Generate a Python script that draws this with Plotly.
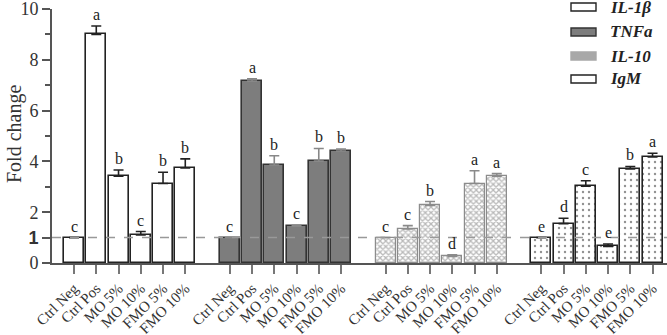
import plotly.graph_objects as go

categories = ["Ctrl Neg", "Ctrl Pos", "MO 5%", "MO 10%", "FMO 5%", "FMO 10%"]
genes = ["IL-1β", "TNFa", "IL-10", "IgM"]

il1b = [1.0, 9.0, 3.42, 1.10, 3.13, 3.74]
il1b_err = [0, 0.33, 0.24, 0.14, 0.44, 0.36]
il1b_sig = ["c", "a", "b", "c", "b", "b"]

tnfa = [1.0, 7.16, 3.86, 1.45, 4.01, 4.41]
tnfa_err = [0, 0.09, 0.36, 0.03, 0.50, 0.08]
tnfa_sig = ["c", "a", "b", "c", "b", "b"]

il10 = [1.0, 1.34, 2.27, 0.26, 3.13, 3.42]
il10_err = [0, 0.13, 0.15, 0.06, 0.50, 0.10]
il10_sig = ["c", "c", "b", "d", "a", "a"]

igm = [1.0, 1.55, 3.02, 0.65, 3.70, 4.18]
igm_err = [0, 0.21, 0.22, 0.10, 0.10, 0.14]
igm_sig = ["e", "d", "c", "e", "b", "a"]

y_ticks = [0, 1, 2, 4, 6, 8, 10]
y_minor = [3, 5, 7, 9]

values = [il1b, tnfa, il10, igm]
errors = [il1b_err, tnfa_err, il10_err, igm_err]
sigs = [il1b_sig, tnfa_sig, il10_sig, igm_sig]

styles = [
    dict(color="white", line=dict(color="#222", width=1.6), pattern=None, ecolor="#222"),
    dict(color="#7d7d7d", line=dict(color="#333", width=1.6), pattern=None, ecolor="#888"),
    dict(color="white", line=dict(color="#8c8c8c", width=1.2),
         pattern=dict(shape="x", fgcolor="#737373", bgcolor="white", size=4, solidity=0.55), ecolor="#8a8a8a"),
    dict(color="white", line=dict(color="#222", width=1.6),
         pattern=dict(shape=".", fgcolor="#222", bgcolor="white", size=6, solidity=0.12), ecolor="#222"),
]

fig = go.Figure()
tickvals, ticktext = [], []
annotations = []
for g, (vals, errs, sg, st) in enumerate(zip(values, errors, sigs, styles)):
    xs = [g * 7 + i for i in range(len(categories))]
    tickvals += xs
    ticktext += categories
    marker = dict(color=st["color"], line=st["line"])
    if st["pattern"]:
        marker["pattern"] = st["pattern"]
    fig.add_trace(go.Bar(
        x=xs, y=vals, width=0.9, marker=marker, name=genes[g], showlegend=False,
        error_y=dict(type="data", symmetric=False, array=errs, arrayminus=[0] * len(errs),
                     color=st["ecolor"], thickness=1.6, width=5),
    ))
    for x, v, e, s in zip(xs, vals, errs, sg):
        annotations.append(dict(x=x, y=v + e, text=s, showarrow=False, yanchor="bottom",
                                yshift=1, font=dict(size=16, color="#222")))

# legend drawn manually (pixel helpers)
W, H = 667, 335
L, R, T, B = 52, 0, 9, 72
def px(x):
    return (x - L) / (W - L - R)
def py(y):
    return (H - B - y) / (H - T - B)

leg_rows = [7, 32, 56, 79]
leg_fill = ["white", "#7d7d7d", "#a8a8a8", "white"]
leg_line = ["#222", "#333", "#a8a8a8", "#222"]
leg_text = ["<b><i>IL-1β</i></b>", "<b><i>TNFa</i></b>", "<b><i>IL-10</i></b>", "<b><i>IgM</i></b>"]
shapes = []
for yy, f, lc, t in zip(leg_rows, leg_fill, leg_line, leg_text):
    shapes.append(dict(type="rect", xref="paper", yref="paper", x0=px(571), x1=px(596),
                       y0=py(yy - 4), y1=py(yy + 4), fillcolor=f, line=dict(color=lc, width=1.4)))
    annotations.append(dict(xref="paper", yref="paper", x=px(608), y=py(yy), text=t, showarrow=False,
                            xanchor="left", yanchor="middle", font=dict(size=17, color="#222")))

annotations.append(dict(xref="paper", yref="paper", x=px(14), y=py(134), text="Fold change",
                        textangle=-90, showarrow=False, xanchor="center", yanchor="middle",
                        font=dict(size=20, color="#333")))

shapes.append(dict(type="line", xref="paper", yref="y", x0=0, x1=1, y0=1, y1=1,
                   line=dict(color="#999", width=1.5, dash="dash"), layer="above"))

fig.update_layout(
    width=W, height=H, margin=dict(l=L, r=R, t=T, b=B, autoexpand=False),
    plot_bgcolor="white", paper_bgcolor="white",
    font=dict(family="Liberation Serif", color="#333"),
    bargap=0, annotations=annotations, shapes=shapes,
    xaxis=dict(range=[-0.99, 26.65], tickvals=tickvals, ticktext=ticktext, tickangle=-45,
               ticks="outside", ticklen=9, tickcolor="#777", tickwidth=1.5, automargin=False,
               ticklabelstandoff=0, ticklabeloverflow="allow",
               showline=True, linecolor="#555", linewidth=1.6, showgrid=False, zeroline=False,
               tickfont=dict(size=15, color="#333")),
    yaxis=dict(range=[0, 10], tickvals=y_ticks, automargin=False, ticklabeloverflow="allow",
               ticktext=[("<span style='font-family:Liberation Sans'><b>1</b></span>" if v == 1 else str(v))
                         for v in y_ticks],
               ticks="outside", ticklen=8, tickcolor="#555", tickwidth=1.5,
               minor=dict(tickvals=y_minor, ticklen=5, tickcolor="#555", tickwidth=1.5),
               showline=True, linecolor="#555", linewidth=1.6, showgrid=False, zeroline=False,
               tickfont=dict(size=18, color="#333")),
)

fig.write_html("out.html", config={"displayModeBar": False},
               post_script="document.body.style.margin='0';document.body.style.padding='0';")
